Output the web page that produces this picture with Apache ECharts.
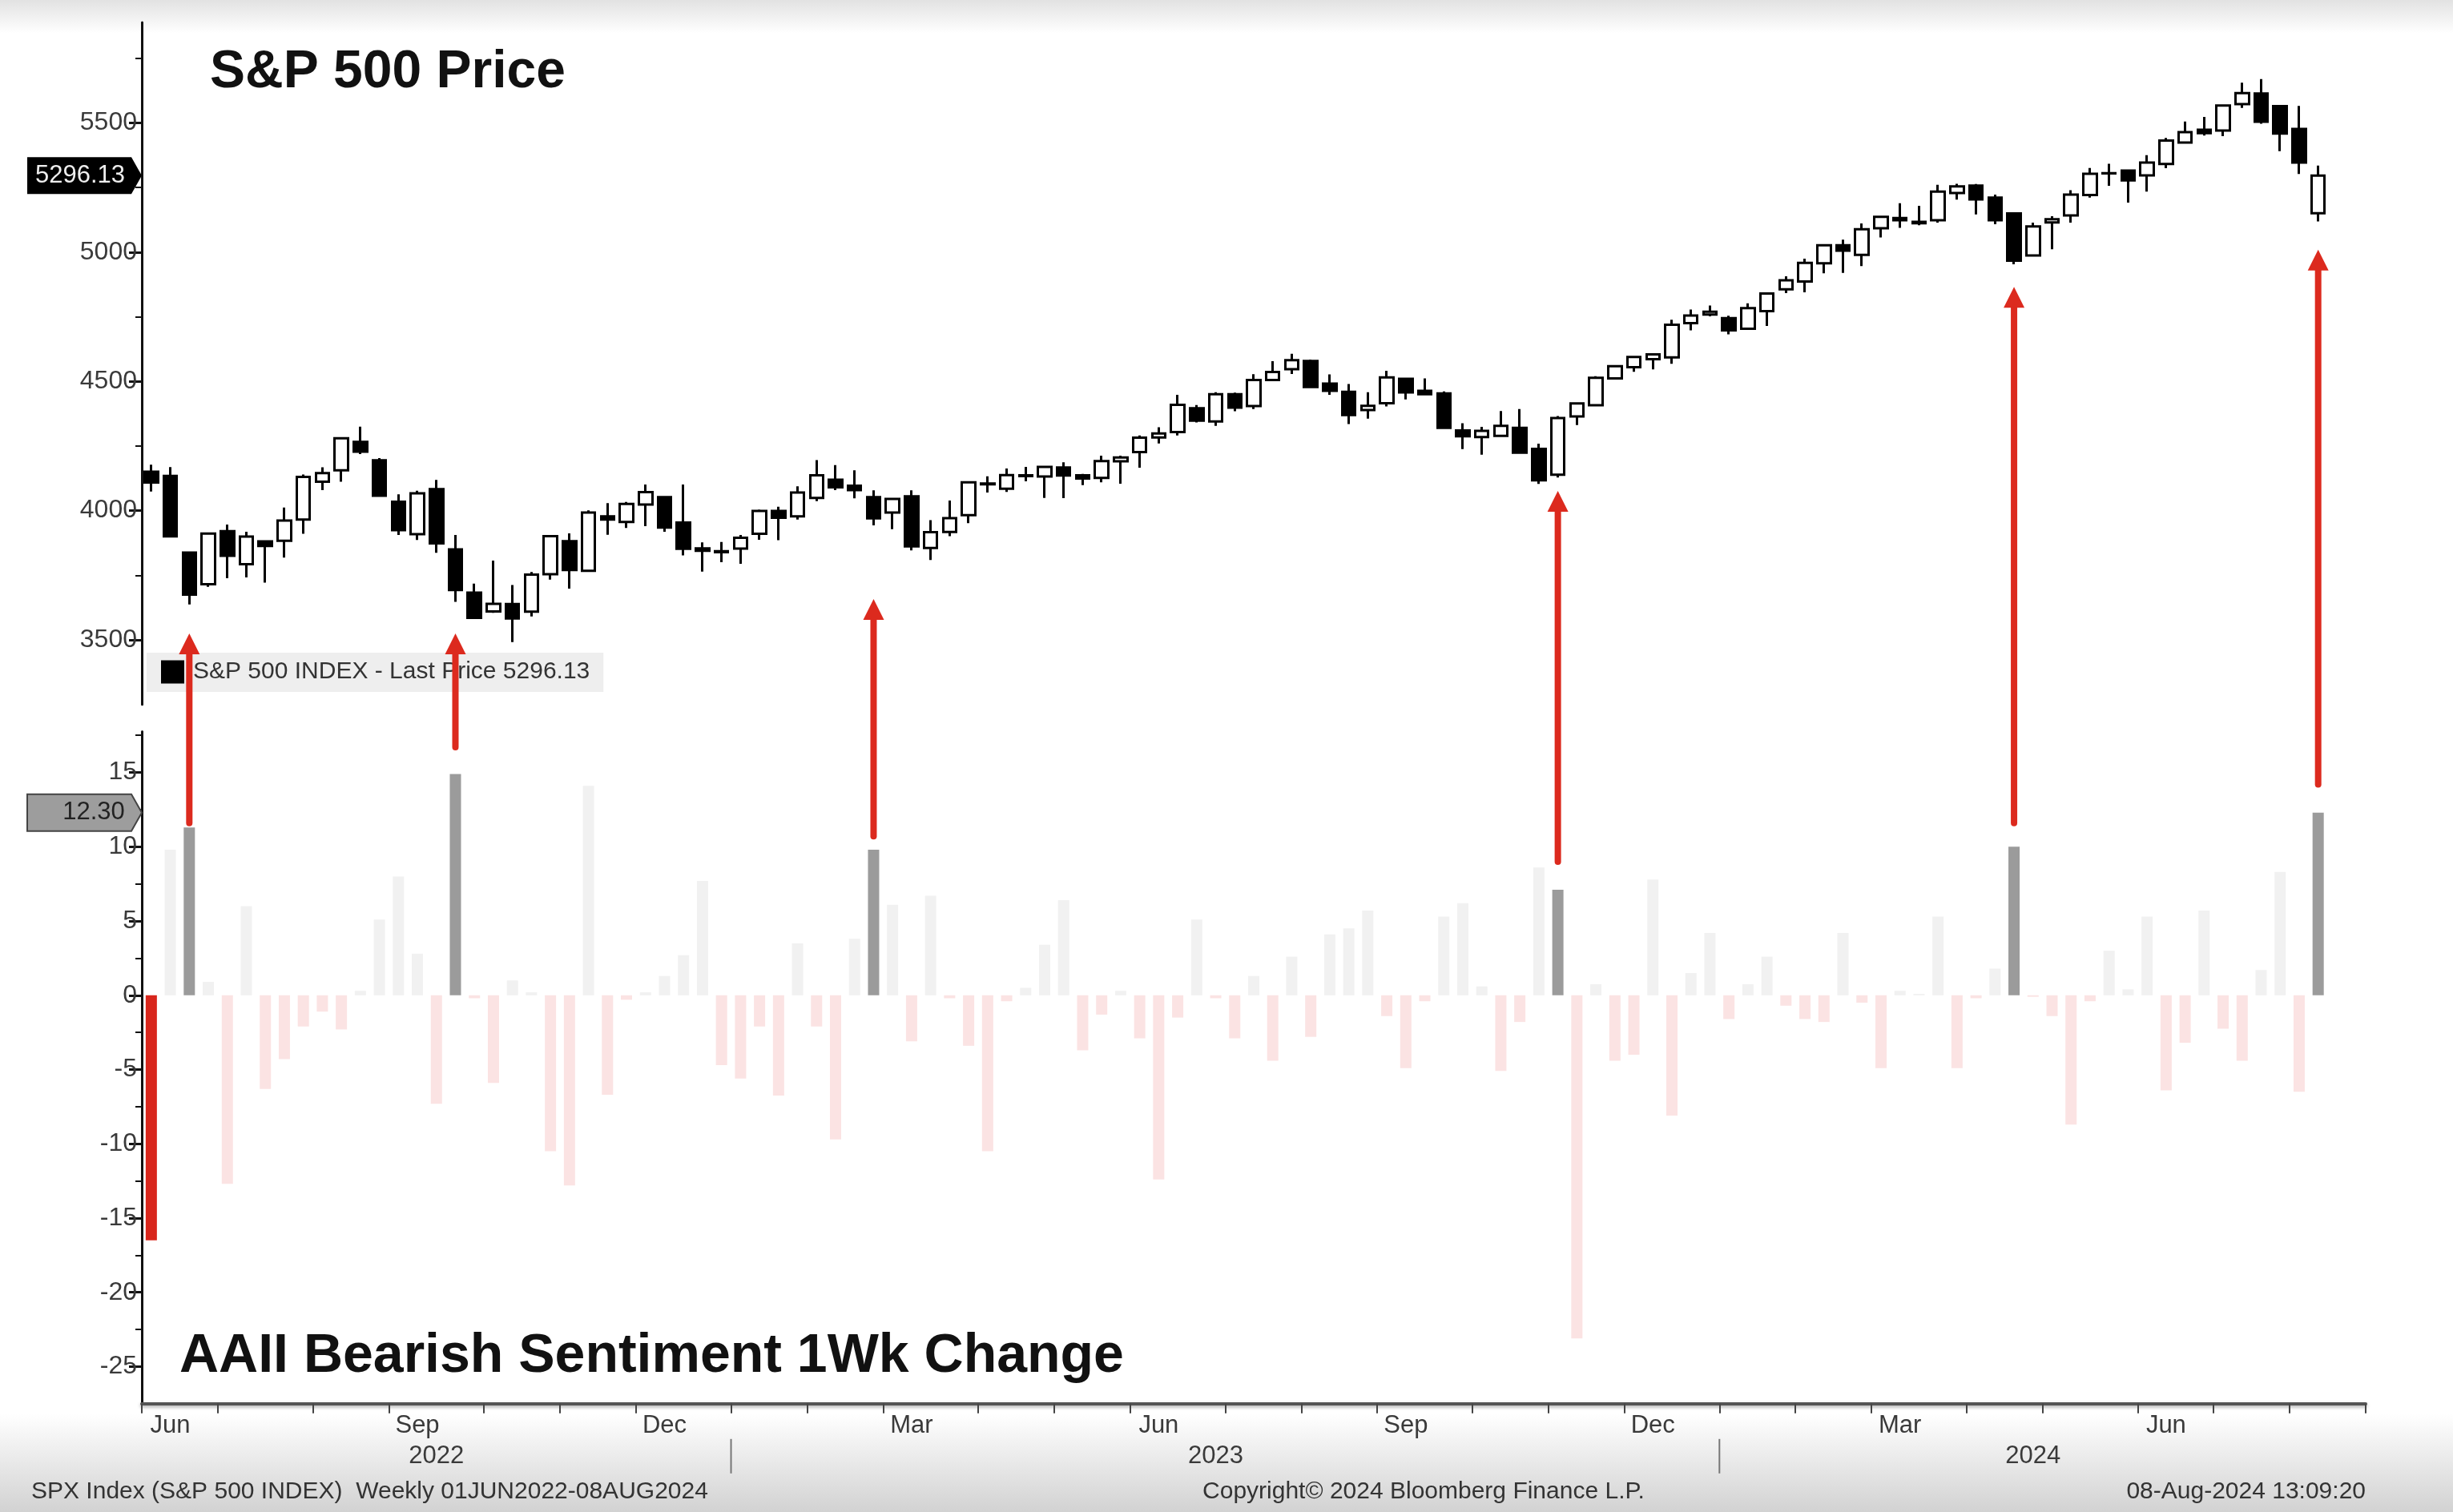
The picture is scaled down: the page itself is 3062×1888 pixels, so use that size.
<!DOCTYPE html>
<html><head><meta charset="utf-8">
<script src="https://cdn.jsdelivr.net/npm/echarts/dist/echarts.min.js"></script>
<style>html,body{margin:0;padding:0;background:#fff}#c{width:3062px;height:1888px}</style>
</head><body><div id="c"></div>
<script>
// ---------- DATA ----------
const weeks = [
'2022-06-03','2022-06-10','2022-06-17','2022-06-24','2022-07-01','2022-07-08','2022-07-15','2022-07-22','2022-07-29','2022-08-05','2022-08-12','2022-08-19','2022-08-26','2022-09-02','2022-09-09','2022-09-16','2022-09-23','2022-09-30','2022-10-07','2022-10-14','2022-10-21','2022-10-28','2022-11-04','2022-11-11','2022-11-18','2022-11-25','2022-12-02','2022-12-09','2022-12-16','2022-12-23','2022-12-30',
'2023-01-06','2023-01-13','2023-01-20','2023-01-27','2023-02-03','2023-02-10','2023-02-17','2023-02-24','2023-03-03','2023-03-10','2023-03-17','2023-03-24','2023-03-31','2023-04-07','2023-04-14','2023-04-21','2023-04-28','2023-05-05','2023-05-12','2023-05-19','2023-05-26','2023-06-02','2023-06-09','2023-06-16','2023-06-23','2023-06-30','2023-07-07','2023-07-14','2023-07-21','2023-07-28','2023-08-04','2023-08-11','2023-08-18','2023-08-25','2023-09-01','2023-09-08','2023-09-15','2023-09-22','2023-09-29','2023-10-06','2023-10-13','2023-10-20','2023-10-27','2023-11-03','2023-11-10','2023-11-17','2023-11-24','2023-12-01','2023-12-08','2023-12-15','2023-12-22','2023-12-29',
'2024-01-05','2024-01-12','2024-01-19','2024-01-26','2024-02-02','2024-02-09','2024-02-16','2024-02-23','2024-03-01','2024-03-08','2024-03-15','2024-03-22','2024-03-29','2024-04-05','2024-04-12','2024-04-19','2024-04-26','2024-05-03','2024-05-10','2024-05-17','2024-05-24','2024-05-31','2024-06-07','2024-06-14','2024-06-21','2024-06-28','2024-07-05','2024-07-12','2024-07-19','2024-07-26','2024-08-02','2024-08-09'
];
const padWeeks = ['2024-08-16','2024-08-23'];

const opens = [
4151.09,4134.72,3838.15,3715.31,3920.76,3792.61,3880.94,3883.79,3965.72,4112.38,4155.93,4266.31,4195.08,4034.58,3909.43,4083.67,3849.91,3682.72,3609.78,3638.65,3609.29,3754.06,3881.85,3766.98,3977.97,3956.23,4023.34,4052.02,3954.17,3853.79,3843.34,
3853.29,3910.82,3999.28,3978.14,4049.27,4119.57,4096.62,4052.35,3992.36,4055.15,3855.76,3917.47,3982.93,4102.20,4085.20,4137.17,4132.07,4166.79,4136.98,4126.65,4190.78,4226.71,4282.99,4304.01,4396.44,4344.88,4450.48,4404.54,4505.30,4547.38,4578.83,4491.58,4459.45,4389.38,4415.33,4510.06,4463.73,4453.53,4310.62,4284.52,4289.02,4320.13,4238.72,4139.39,4364.27,4407.92,4511.70,4554.86,4586.23,4593.39,4725.58,4758.86,
4745.20,4703.70,4772.35,4856.80,4886.66,4957.19,5026.83,4989.32,5093.00,5132.38,5111.96,5123.31,5228.85,5257.97,5211.37,5149.67,4987.33,5115.00,5142.42,5221.10,5305.35,5315.91,5297.15,5341.22,5424.08,5473.59,5471.08,5572.75,5614.05,5565.30,5476.55,5151.14
];
const closes = [
4108.54,3900.86,3674.84,3911.74,3825.33,3899.38,3863.16,3961.63,4130.29,4145.19,4280.15,4228.48,4057.66,3924.26,4067.36,3873.33,3693.23,3585.62,3639.66,3583.07,3752.75,3901.06,3770.55,3992.93,3965.34,4026.12,4071.70,3934.38,3852.36,3844.82,3839.50,
3895.08,3999.09,3972.61,4070.56,4136.48,4090.46,4079.09,3970.04,4045.64,3861.59,3916.64,3970.99,4109.31,4105.02,4137.64,4133.52,4169.48,4136.25,4124.08,4191.98,4205.45,4282.37,4298.86,4409.59,4348.33,4450.38,4398.95,4505.42,4536.34,4582.23,4478.03,4464.05,4369.71,4405.71,4515.77,4457.49,4450.32,4320.06,4288.05,4308.50,4327.78,4224.16,4117.37,4358.34,4415.24,4514.02,4559.34,4594.63,4604.37,4719.19,4754.63,4769.83,
4697.24,4783.83,4839.81,4890.97,4958.61,5026.61,5005.57,5088.80,5137.08,5123.69,5117.09,5234.18,5254.35,5204.34,5123.41,4967.23,5099.96,5127.79,5222.68,5303.27,5304.72,5277.51,5346.99,5431.60,5464.62,5460.48,5567.19,5615.35,5505.00,5459.10,5346.56,5296.13
];
const lows = [
4073.85,3900.16,3636.87,3705.68,3738.67,3742.06,3721.56,3818.63,3910.74,4079.81,4112.09,4218.70,4057.66,3906.21,3886.75,3837.08,3647.47,3584.13,3604.93,3491.58,3590.83,3733.25,3698.15,3764.70,3906.54,3933.17,3939.85,3918.39,3827.29,3764.49,3800.33,
3794.33,3887.60,3885.54,3965.51,4037.20,4079.25,4047.49,3943.08,3928.16,3846.32,3808.86,3901.41,3951.53,4069.84,4072.55,4113.20,4049.35,4048.28,4098.92,4109.86,4103.98,4166.15,4260.21,4290.64,4341.34,4328.08,4385.05,4393.40,4503.07,4528.56,4474.55,4448.47,4335.31,4356.29,4403.39,4430.46,4447.21,4316.49,4238.63,4216.45,4289.02,4223.03,4103.78,4128.00,4331.26,4404.42,4510.36,4537.24,4546.50,4568.43,4697.82,4751.99,
4682.11,4699.82,4714.82,4842.07,4845.15,4918.09,4920.31,4946.00,5056.82,5094.39,5104.35,5114.55,5203.42,5146.06,5107.94,4953.56,4987.33,5011.05,5114.48,5211.16,5256.93,5191.68,5234.32,5325.30,5420.46,5451.12,5448.80,5557.89,5497.04,5390.95,5302.40,5119.26
];
const highs = [
4177.51,4168.78,3838.15,3913.65,3945.86,3918.50,3880.94,4012.44,4140.15,4167.66,4280.47,4325.28,4203.04,4062.99,4076.81,4119.28,3906.03,3717.53,3806.91,3712.00,3762.79,3905.42,3911.79,4001.48,4028.84,4034.02,4100.96,4052.45,4100.96,3876.91,3878.82,
3906.18,4003.95,4015.39,4094.21,4195.44,4176.54,4156.00,4078.85,4048.29,4078.49,3963.24,4039.49,4110.75,4133.13,4163.19,4169.48,4170.06,4186.92,4142.30,4212.91,4212.87,4290.67,4322.62,4448.47,4408.46,4458.48,4456.46,4527.76,4578.43,4607.07,4584.62,4527.37,4490.33,4458.30,4541.25,4514.29,4511.99,4461.03,4338.51,4324.10,4385.46,4393.57,4259.38,4366.00,4418.03,4520.12,4560.02,4599.39,4609.23,4738.57,4778.01,4793.30,
4754.33,4802.40,4842.07,4906.69,4975.29,5030.06,5048.39,5111.06,5140.33,5189.26,5179.14,5261.10,5264.85,5263.95,5222.64,5149.67,5114.62,5139.12,5239.66,5325.49,5341.88,5315.91,5375.08,5441.93,5505.53,5523.64,5570.33,5655.56,5669.67,5566.16,5566.16,5335.00
];

// AAII bearish sentiment, 1-week change (percentage points)
const bearishChange = [
-16.5,9.8,11.3,0.9,-12.7,6.0,-6.3,-4.3,-2.1,-1.1,-2.3,0.3,5.1,8.0,2.8,-7.3,14.9,-0.2,-5.9,1.0,0.2,-10.5,-12.8,14.1,-6.7,-0.3,0.2,1.3,2.7,7.7,
-4.7,-5.6,-2.1,-6.75,3.5,-2.1,-9.7,3.8,9.8,6.1,-3.1,6.7,-0.2,-3.4,-10.5,-0.4,0.5,3.4,6.4,-3.7,-1.3,0.3,-2.9,-12.4,-1.5,5.1,-0.2,-2.9,1.3,-4.4,
2.6,-2.8,4.1,4.5,5.7,-1.4,-4.9,-0.4,5.3,6.2,0.6,-5.1,-1.8,8.6,7.1,-23.1,0.75,-4.4,-4.0,7.8,-8.1,1.5,4.2,-1.6,0.75,2.6,-0.7,-1.6,-1.8,4.2,
-0.5,-4.9,0.3,0.1,5.3,-4.9,-0.2,1.8,10.0,-0.1,-1.4,-8.7,-0.4,3.0,0.4,5.3,-6.4,-3.2,5.7,-2.25,-4.4,1.7,8.3,-6.5,12.3
];
const highlightWeeks = [2, 16, 38, 74, 98, 114];
const redWeeks = [0];

// annotation arrows: week index, start (sentiment axis), tip (price axis)
const arrowWeeks = [2, 16, 38, 74, 98, 114];
const arrowFromSentiment = [11.6, 16.7, 10.7, 9.0, 11.6, 14.2];
const arrowToPrice = [3525, 3525, 3658, 4076, 4866, 5010];

const priceMajorTicks = [3500, 4000, 4500, 5000, 5500];
const priceMinorTicks = [3750, 4250, 4750, 5250, 5750];
const sentMajorTicks = [-25, -20, -15, -10, -5, 0, 5, 10, 15];
const sentMinorTicks = [-22.5, -17.5, -12.5, -7.5, -2.5, 2.5, 7.5, 12.5, 17.5];
const labelledMonths = {6: 'Jun', 9: 'Sep', 12: 'Dec', 3: 'Mar'};

const lastPrice = 5296.13;
const lastSentiment = 12.30;
const titleTop = 'S&P 500 Price';
const titleBottom = 'AAII Bearish Sentiment 1Wk Change';
const legendName = 'S&P 500 INDEX - Last Price ' + lastPrice.toFixed(2);
const footerLeft = 'SPX Index (S&P 500 INDEX)  Weekly 01JUN2022-08AUG2024';
const footerMid = 'Copyright\u00A9 2024 Bloomberg Finance L.P.';
const footerRight = '08-Aug-2024 13:09:20';

// ---------- DERIVED ----------
const cats = weeks.concat(padWeeks);
const ohlc = weeks.map((w, i) => [opens[i], closes[i], lows[i], highs[i]]);
const monthOf = d => +d.slice(5, 7);
const yearOf = d => d.slice(0, 4);
const monthTickSet = new Set();
const monthLabelMap = {};
cats.forEach((d, i) => {
  if (i === 0 || monthOf(d) !== monthOf(cats[i - 1])) {
    monthTickSet.add(i);
    const m = monthOf(d);
    if (labelledMonths[m]) monthLabelMap[i + 1] = labelledMonths[m];
  }
});
const yearStarts = [];
const yearSpans = {};
cats.forEach((d, i) => {
  const y = yearOf(d);
  if (i > 0 && y !== yearOf(cats[i - 1])) yearStarts.push(i);
  if (!yearSpans[y]) yearSpans[y] = [i, i]; else yearSpans[y][1] = i;
});
const yearLabelMap = {};
Object.keys(yearSpans).forEach(y => { yearLabelMap[Math.floor((yearSpans[y][0] + yearSpans[y][1]) / 2)] = y; });

const PALE_POS = '#f1f1f1', PALE_NEG = '#fbe3e3', HL = '#9b9b9b', RED = '#d8261c';
const barData = bearishChange.map((v, i) => ({
  value: v,
  itemStyle: {color: redWeeks.includes(i) ? RED : (highlightWeeks.includes(i) ? HL : (v >= 0 ? PALE_POS : PALE_NEG))}
}));

// ---------- CHART ----------
const FONT = '"Liberation Sans", Arial, sans-serif';
const chart = echarts.init(document.getElementById('c'), null, {renderer: 'canvas', width: 3062, height: 1888});

const axisLabelStyle = {fontSize: 32, color: '#3a3a3a', fontFamily: FONT, formatter: v => String(v)};
const option = {
  animation: false,
  backgroundColor: new echarts.graphic.LinearGradient(0, 0, 0, 1, [
    {offset: 0, color: '#e2e2e2'}, {offset: 0.013, color: '#f3f3f3'}, {offset: 0.022, color: '#ffffff'},
    {offset: 0.935, color: '#ffffff'}, {offset: 1, color: '#d2d2d2'}
  ]),
  textStyle: {fontFamily: FONT},
  title: [
    {text: titleTop, left: 262, top: 58, padding: 0,
     textStyle: {fontSize: 66, fontWeight: 'bold', color: '#111', fontFamily: FONT}},
    {text: titleBottom, left: 224, top: 1660, padding: 0,
     textStyle: {fontSize: 68, fontWeight: 'bold', color: '#111', fontFamily: FONT}}
  ],
  legend: {
    data: [{name: legendName, icon: 'rect', itemStyle: {color: '#000', borderWidth: 0}}],
    left: 183, top: 815, orient: 'horizontal',
    itemWidth: 29, itemHeight: 29, selectedMode: false,
    padding: [9, 17, 10, 18], backgroundColor: '#eeeeee',
    textStyle: {fontSize: 30, color: '#333', fontFamily: FONT, padding: [0, 0, 0, 6]}
  },
  grid: [
    {left: 177, top: 28, width: 2776, height: 851.7, outerBoundsMode: 'none'},
    {left: 177, top: 913.6, width: 2776, height: 839.2, outerBoundsMode: 'none'}
  ],
  xAxis: [
    {gridIndex: 0, type: 'category', data: cats, boundaryGap: true, show: false},
    {gridIndex: 1, type: 'category', data: cats, boundaryGap: true,
     axisLine: {show: true, onZero: false, lineStyle: {color: '#555', width: 4, shadowColor: 'rgba(0,0,0,0.35)', shadowBlur: 4, shadowOffsetY: 2}},
     axisTick: {show: true, length: 12, interval: (i) => monthTickSet.has(i), lineStyle: {color: '#444', width: 2}},
     axisLabel: {show: true, interval: (i) => monthLabelMap[i] !== undefined, formatter: (v, i) => monthLabelMap[i] || '',
                 margin: 12, fontSize: 31, color: '#3a3a3a', fontFamily: FONT, hideOverlap: false},
     splitLine: {show: false}},
    {gridIndex: 1, type: 'category', data: cats, boundaryGap: true, position: 'bottom', offset: 44,
     axisLine: {show: false, onZero: false},
     axisTick: {show: false},
     axisLabel: {show: true, interval: (i) => yearLabelMap[i] !== undefined, formatter: (v, i) => yearLabelMap[i] || '',
                 margin: 6, fontSize: 31, color: '#3a3a3a', fontFamily: FONT, hideOverlap: false},
     splitLine: {show: false}}
  ],
  yAxis: [
    {gridIndex: 0, type: 'value', min: 3250, max: 5889, position: 'left',
     axisLine: {show: true, lineStyle: {color: '#111', width: 3}},
     axisTick: {show: true, length: 16, customValues: priceMajorTicks, lineStyle: {color: '#111', width: 3}},
     axisLabel: {show: true, customValues: priceMajorTicks, margin: 6, ...axisLabelStyle},
     splitLine: {show: false}},
    {gridIndex: 1, type: 'value', min: -27.5, max: 17.75, position: 'left',
     axisLine: {show: true, onZero: false, lineStyle: {color: '#111', width: 3}},
     axisTick: {show: true, length: 16, customValues: sentMajorTicks, lineStyle: {color: '#111', width: 3}},
     axisLabel: {show: true, customValues: sentMajorTicks, margin: 6, ...axisLabelStyle},
     splitLine: {show: false}},
    {gridIndex: 0, type: 'value', min: 3250, max: 5889, position: 'left', offset: 0,
     axisLine: {show: false},
     axisTick: {show: true, length: 8, customValues: priceMinorTicks, lineStyle: {color: '#111', width: 2}},
     axisLabel: {show: false}, splitLine: {show: false}},
    {gridIndex: 1, type: 'value', min: -27.5, max: 17.75, position: 'left', offset: 0,
     axisLine: {show: false, onZero: false},
     axisTick: {show: true, length: 8, customValues: sentMinorTicks, lineStyle: {color: '#111', width: 2}},
     axisLabel: {show: false}, splitLine: {show: false}}
  ],
  series: [
    {name: legendName, type: 'candlestick', xAxisIndex: 0, yAxisIndex: 0, data: ohlc, barWidth: 17,
     itemStyle: {color: '#ffffff', color0: '#000000', borderColor: '#000000', borderColor0: '#000000', borderWidth: 3},
     emphasis: {disabled: true}},
    {name: 'AAII', type: 'bar', xAxisIndex: 1, yAxisIndex: 1, data: barData, barWidth: 14,
     emphasis: {disabled: true}}
  ]
};
chart.setOption(option);

// ---------- ANNOTATIONS (positions from the chart's own scales) ----------
const g = [];
const ARROW = '#dc2a1e';
arrowWeeks.forEach((w, k) => {
  const p0 = chart.convertToPixel({gridIndex: 1}, [w, arrowFromSentiment[k]]);
  const p1 = chart.convertToPixel({gridIndex: 0}, [w, arrowToPrice[k]]);
  const x = p0[0], yb = p0[1], yt = p1[1];
  g.push({type: 'line', z: 200, shape: {x1: x, y1: yb, x2: x, y2: yt + 22},
          style: {stroke: ARROW, lineWidth: 8, lineCap: 'round'}});
  g.push({type: 'polygon', z: 201, shape: {points: [[x, yt], [x - 13, yt + 26], [x + 13, yt + 26]]},
          style: {fill: ARROW}});
});
// year separators at the boundary before the first week of each year
const band = chart.convertToPixel({xAxisIndex: 1}, 1) - chart.convertToPixel({xAxisIndex: 1}, 0);
const xAxisY = chart.convertToPixel({yAxisIndex: 1}, -27.5);
yearStarts.forEach(i => {
  const xb = chart.convertToPixel({xAxisIndex: 1}, i) - band / 2;
  g.push({type: 'line', z: 150, shape: {x1: xb, y1: xAxisY + 44, x2: xb, y2: xAxisY + 87},
          style: {stroke: '#777', lineWidth: 2}});
});
// last-value tags
const py = chart.convertToPixel({yAxisIndex: 0}, lastPrice);
g.push({type: 'polygon', z: 150, shape: {points: [[34, py - 23], [164, py - 23], [177, py], [164, py + 23], [34, py + 23]]},
        style: {fill: '#000'}});
g.push({type: 'text', z: 151, x: 100, y: py,
        style: {text: lastPrice.toFixed(2), fill: '#eeeeee', font: '31px ' + FONT,
                align: 'center', verticalAlign: 'middle', textAlign: 'center', textVerticalAlign: 'middle'}});
const sy = chart.convertToPixel({yAxisIndex: 1}, lastSentiment);
g.push({type: 'polygon', z: 150, shape: {points: [[34, sy - 23], [164, sy - 23], [177, sy], [164, sy + 23], [34, sy + 23]]},
        style: {fill: '#9d9d9d', stroke: '#444', lineWidth: 2}});
g.push({type: 'text', z: 151, x: 117, y: sy,
        style: {text: lastSentiment.toFixed(2), fill: '#222', font: '31px ' + FONT,
                align: 'center', verticalAlign: 'middle', textAlign: 'center', textVerticalAlign: 'middle'}});
// footer
const footStyle = (t, al) => ({text: t, fill: '#333', font: '30px ' + FONT, align: al, verticalAlign: 'middle', textAlign: al, textVerticalAlign: 'middle'});
g.push({type: 'text', z: 150, x: 39, y: 1863, style: footStyle(footerLeft, 'left')});
g.push({type: 'text', z: 150, x: 1777, y: 1863, style: footStyle(footerMid, 'center')});
g.push({type: 'text', z: 150, x: 2953, y: 1863, style: footStyle(footerRight, 'right')});

chart.setOption({graphic: {elements: g}});
</script>
</body></html>
